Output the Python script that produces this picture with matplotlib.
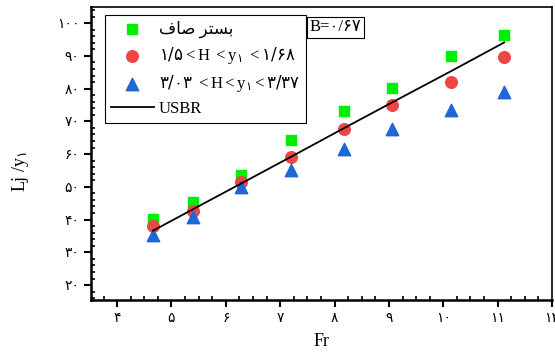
import matplotlib
matplotlib.use("Agg")
from matplotlib import pyplot as plt
from matplotlib.ticker import MultipleLocator, FixedLocator, FixedFormatter

plt.rcParams['font.family'] = ['Liberation Serif', 'DejaVu Sans']
plt.rcParams['mathtext.fontset'] = 'custom'
plt.rcParams['mathtext.it'] = 'Liberation Serif'
plt.rcParams['mathtext.rm'] = 'Liberation Serif'
plt.rcParams['mathtext.bf'] = 'DejaVu Sans'  # Persian digits

# Froude number of each run
fr = [4.66, 5.40, 6.28, 7.19, 8.17, 9.06, 10.15, 11.12]

# relative jump length Lj/y1
smooth_bed = [40.1, 45.4, 53.6, 64.3, 73.1, 80.2, 89.9, 96.3]
rough_low = [38.0, 42.6, 51.5, 59.0, 67.7, 74.9, 82.1, 89.7]
rough_high = [35.3, 40.9, 50.1, 55.2, 61.5, 67.7, 73.6, 79.0]
usbr = [36.6, 43.2, 51.0, 59.1, 67.9, 75.8, 85.4, 94.1]

fa_digits = str.maketrans('0123456789', '۰۱۲۳۴۵۶۷۸۹')
x_ticks = [4, 5, 6, 7, 8, 9, 10, 11, 12]
y_ticks = [20, 30, 40, 50, 60, 70, 80, 90, 100]

# "بستر صاف" in shaped presentation forms, visual order
lbl_smooth = '\uFED1\uFE8E\uFEBB \uFEAE\uFE98\uFEB4\uFE91'
lbl_low = '$\\mathbf{۱/۵}{<}H\\ {<}y_{\\mathbf{۱}}\\ {<}\\mathbf{۱/۶۸}$'
lbl_high = '$\\mathbf{۳/۰۳}\\ {<}H{<}y_{\\mathbf{۱}}{<}\\mathbf{۳/۳۷}$'

fig = plt.figure(figsize=(5.55, 3.56), dpi=100)
ax = fig.add_axes([0.164, 0.157, 0.8306, 0.823])

ax.scatter(fr, smooth_bed, marker='s', s=55, color='#00ee00', zorder=3, label=lbl_smooth)
ax.scatter(fr, rough_low, marker='o', s=70, color='#f04545', zorder=3, label=lbl_low)
ax.scatter(fr, rough_high, marker='^', s=80, color='#1f66d8', zorder=3, label=lbl_high)
ax.plot(fr, usbr, color='black', lw=1.3, zorder=4, label='USBR')

ax.set_xlim(3.52, 12)
ax.set_ylim(15.4, 104.9)

ax.xaxis.set_major_locator(FixedLocator(x_ticks))
ax.xaxis.set_major_formatter(FixedFormatter([str(v).translate(fa_digits) for v in x_ticks]))
ax.yaxis.set_major_locator(FixedLocator(y_ticks))
ax.yaxis.set_major_formatter(FixedFormatter([str(v).translate(fa_digits) for v in y_ticks]))
ax.xaxis.set_minor_locator(MultipleLocator(0.25))
ax.yaxis.set_minor_locator(MultipleLocator(2))

ax.tick_params(which='major', direction='out', length=5, width=1.5, labelsize=10)
ax.tick_params(which='minor', direction='in', length=3, width=1.2)
for side in ['left', 'bottom']:
    ax.spines[side].set_linewidth(1.8)
for side in ['top', 'right']:
    ax.spines[side].set_linewidth(1.2)

ax.set_xlabel('Fr', fontsize=13, labelpad=6)
ax.set_ylabel('Lj /$y_{\\mathbf{۱}}$', fontsize=13)
ax.yaxis.set_label_coords(-0.13, 0.44)

leg = ax.legend(loc='upper left', bbox_to_anchor=(0.030, 0.973), borderaxespad=0,
                fontsize=12, frameon=True, fancybox=False, edgecolor='black',
                framealpha=1, handlelength=2.6, handletextpad=0.3,
                labelspacing=0.42, borderpad=0.35)
leg.get_frame().set_linewidth(0.8)

ax.text(0.474, 0.932, 'B=۰/۶۷', transform=ax.transAxes, fontsize=12,
        ha='left', va='center',
        bbox=dict(boxstyle='square,pad=0.15', facecolor='white', edgecolor='black', lw=0.8))

fig.savefig('out.png', dpi=100)
